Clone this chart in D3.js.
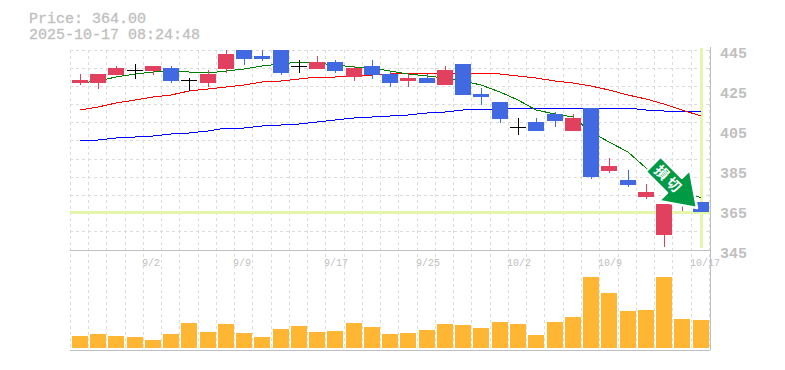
<!DOCTYPE html>
<html>
<head>
<meta charset="utf-8">
<script src="https://cdnjs.cloudflare.com/ajax/libs/d3/7.8.5/d3.min.js"></script>
<style>
body { margin: 0; background: #fff; }
svg { display: block; }
text { fill: #c0c0c0; font-family: "Liberation Mono", monospace; }
</style>
</head>
<body>
<svg id="chart" width="785" height="370"></svg>
<script>
const opens = [428.5,428.5,432.5,435,434.5,436,430,428.5,435.5,445,442,445,437,435.5,439,431.5,437,433,429.5,431,427.5,438,423,419,406.5,409,413,404.5,416,384.5,380,371.5,352.5,368,369];
const closes = [430,433,436,435,437,429.5,430,433,443,440.5,440.5,433.5,437,439,434.5,436,432.5,428.5,431,428.5,435,422.5,421.5,410.5,406.5,404.5,409.5,411,381.5,387,377.5,374,368,372,364];
const highs = [433,433,437,438,437,437,431,435,445,445,445,445,440,442,440,437,440,434,433,433,437,438,426,419,411,411,414,413,416,391,385,378,368,372,369];
const lows = [427.5,425.5,432.5,430.5,432.5,428.5,424.5,426.5,433.5,437.5,439.5,432.5,433.5,435.5,433.5,429.5,430.5,426.5,426.5,428.5,427.5,422.5,417.5,408.5,402.5,404.5,406.5,404.5,380.5,383.5,376.5,370.5,346.5,364.5,364];
const volumes = [12,14,12,11,8,14,25,16,24,15,11,19,22,16,17,25,21,14,15,18,24,23,20,26,24,13,26,31,71,55,37,38,71,29,28];
const maShort = [428.5,429.5,431.5,433,434,434.5,434,433.5,434.5,435.5,437,438,439,438.5,437.5,436.5,436,434.5,433,432,431,429.5,427.5,424,420,415,413,411.5,404,399,394,386,380,375,371];
const maMid = [415,416.5,418.5,420,421.5,422.5,424.5,425.5,426.5,427.5,429,429.5,430.5,431.5,431.5,432,432.5,433,433.5,433.5,433.5,433.5,433.5,433,432,431,429.5,428.5,427,425,422.5,420.5,418,415,412];
const maLong = [399.5,400,401,401.5,402,403,403.5,404.5,406,406,407,407.5,408,409,410,411,411.5,412,412.5,413.5,414,415,415.5,415.5,416,416,416,416,416,416,416,415,414.5,414.5,414];
const priceTicks = [345,365,385,405,425,445];
const dateTicks = [[4,"9/2"],[9,"9/9"],[14,"9/17"],[19,"9/25"],[24,"10/2"],[29,"10/9"],[34,"10/17"]];
const lastPrice = 364;
const title = ["Price: 364.00", "2025-10-17 08:24:48"];
const arrowLabel = "損切";

const plotLeft = 70.3, plotRight = 709.3, plotTop = 50, plotMid = 250, plotBottom = 350, volBase = 348;
const gridColor = "#dcdcdc", axisColor = "#c0c0c0", markColor = "#e4f5ac";
const upColor = "#e2405f", downColor = "#4169e1", volColor = "#ffb733";

const svg = d3.select("#chart");
const idx = d3.range(closes.length);

const x = d3.scaleBand().domain(idx).range([plotLeft, plotRight]);
const cx = i => Math.round(x(i) + x.bandwidth() / 2 + 0.4);
const y = d3.scaleLinear().domain([345, 445]).range([plotMid, plotTop]);
const yVol = d3.scaleLinear().domain([0, d3.max(volumes)]).range([volBase, 277]);

// grid
const grid = svg.append("g").attr("stroke", gridColor).attr("stroke-dasharray", "3,3").attr("shape-rendering", "crispEdges");
d3.range(12).forEach(i => {
    const gy = plotTop + i * (plotMid - plotTop) / 11;
    grid.append("line").attr("x1", plotLeft).attr("x2", plotRight + 1).attr("y1", gy).attr("y2", gy);
});
d3.range(closes.length + 1).forEach(i => {
    const gx = plotLeft + i * x.bandwidth();
    grid.append("line").attr("x1", gx).attr("x2", gx).attr("y1", plotTop).attr("y2", plotBottom);
});

// current price + last day markers
svg.append("line").attr("x1", plotLeft).attr("x2", plotRight + 1).attr("y1", y(lastPrice)).attr("y2", y(lastPrice))
    .attr("stroke", markColor).attr("stroke-width", 3).attr("shape-rendering", "crispEdges");
svg.append("line").attr("x1", cx(34)).attr("x2", cx(34)).attr("y1", plotTop - 2).attr("y2", plotMid - 2)
    .attr("stroke", markColor).attr("stroke-width", 3).attr("shape-rendering", "crispEdges");

// moving averages
const line = d3.line().x((d, i) => cx(i)).y(d => y(d));
[[maLong, "#0000ff"], [maMid, "#ff0000"], [maShort, "#008000"]].forEach(([vals, color]) => {
    svg.append("path").attr("d", line(vals)).attr("fill", "none").attr("stroke", color)
        .attr("stroke-width", 1).attr("shape-rendering", "crispEdges");
});

// candles
const candles = svg.append("g").attr("shape-rendering", "crispEdges");
const candleColor = i => closes[i] === opens[i] ? "#000" : (closes[i] > opens[i] ? upColor : downColor);
candles.selectAll("line").data(idx).join("line")
    .attr("x1", cx).attr("x2", cx)
    .attr("y1", i => y(highs[i])).attr("y2", i => y(lows[i]))
    .attr("stroke", candleColor);
candles.selectAll("rect").data(idx).join("rect")
    .attr("x", i => cx(i) - 8)
    .attr("width", 16)
    .attr("y", i => y(Math.max(opens[i], closes[i])))
    .attr("height", i => Math.max(1, Math.abs(y(opens[i]) - y(closes[i]))))
    .attr("fill", candleColor);

// volume
svg.append("g").attr("shape-rendering", "crispEdges").selectAll("rect").data(volumes).join("rect")
    .attr("x", (d, i) => cx(i) - 8)
    .attr("width", 16)
    .attr("y", d => yVol(d))
    .attr("height", d => volBase - yVol(d))
    .attr("fill", volColor);

// frame
const frame = svg.append("g").attr("stroke", axisColor).attr("shape-rendering", "crispEdges");
frame.append("line").attr("x1", plotLeft).attr("x2", plotRight + 1).attr("y1", plotMid).attr("y2", plotMid);
frame.append("line").attr("x1", plotLeft).attr("x2", plotRight + 1).attr("y1", plotBottom).attr("y2", plotBottom);
frame.append("line").attr("x1", plotRight + 1).attr("x2", plotRight + 1).attr("y1", plotTop - 3).attr("y2", plotBottom);

// arrow, tip sits next to the last candle
const arrowShape = [[0,0],[-32,-22],[-32,-10.5],[-62,-10.5],[-62,10.5],[-32,10.5],[-32,22]];
const arrow = svg.append("g").attr("transform", `translate(${cx(34) - 4},${y(lastPrice) - 4}) rotate(45)`);
arrow.append("path").attr("d", d3.line()(arrowShape) + "Z")
    .attr("fill", "#009944").attr("stroke", "#fff").attr("stroke-width", 2.5).attr("stroke-linejoin", "round");
arrow.append("text").attr("x", -40).attr("y", 5).attr("text-anchor", "middle")
    .style("fill", "#fff").style("font-family", "'Noto Sans CJK JP'").style("font-size", "14px")
    .style("font-weight", "bold").style("letter-spacing", "3px").text(arrowLabel);

// labels
priceTicks.forEach(p => {
    svg.append("text").attr("x", 720).attr("y", y(p) + 8).style("font-size", "15px").style("font-weight", "bold").text(p);
});
dateTicks.forEach(([i, label]) => {
    svg.append("text").attr("x", cx(i) - 11).attr("y", 266).style("font-size", "10px").text(label);
});
title.forEach((t, i) => {
    svg.append("text").attr("x", 29).attr("y", 22.5 + i * 16)
        .attr("textLength", t.length * 9).attr("lengthAdjust", "spacingAndGlyphs")
        .style("font-size", "14px").style("stroke", "#c0c0c0").style("stroke-width", 0.3).text(t);
});
</script>
</body>
</html>
